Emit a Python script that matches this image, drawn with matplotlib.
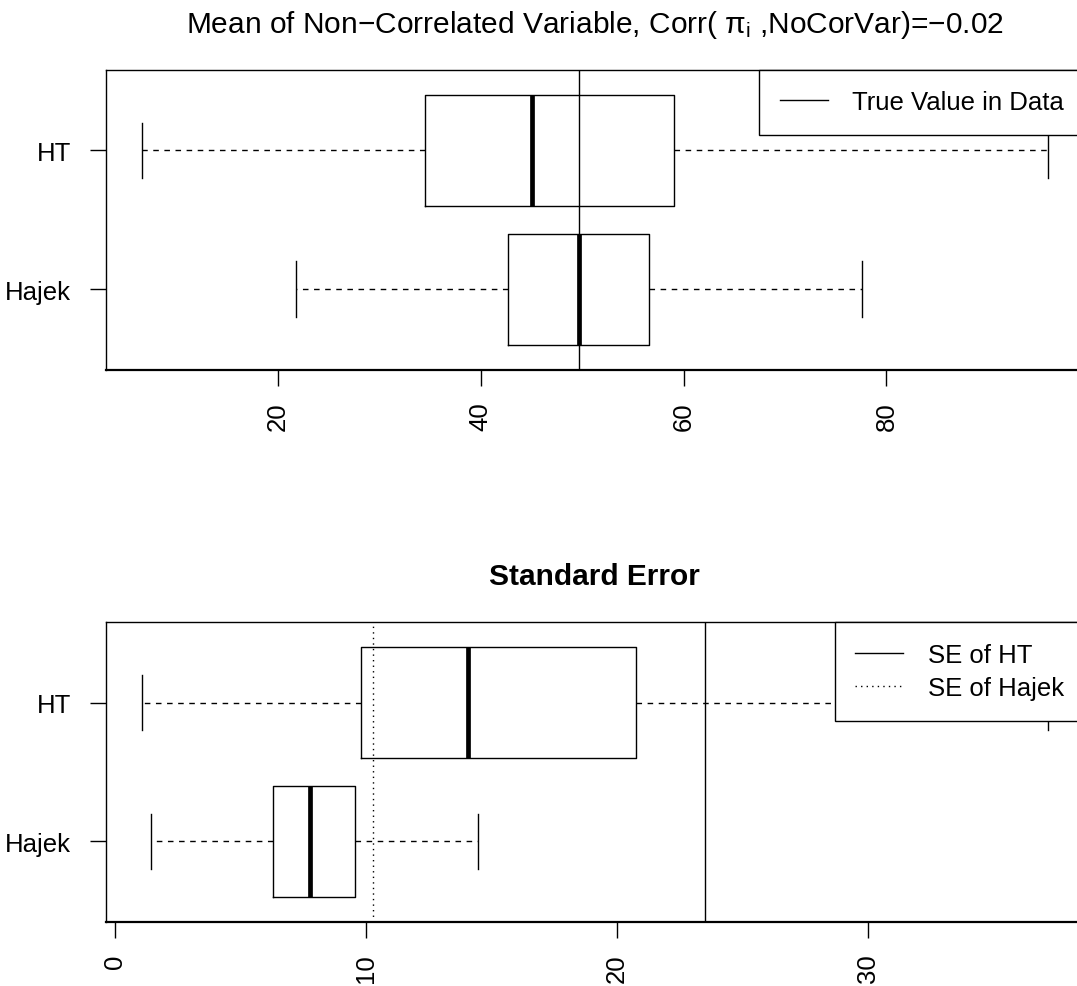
import matplotlib
matplotlib.use("Agg")
import matplotlib.pyplot as plt

plt.rcParams['font.family'] = ['Liberation Sans', 'DejaVu Sans']
plt.rcParams['mathtext.fontset'] = 'custom'
plt.rcParams['mathtext.rm'] = 'Liberation Sans'
plt.rcParams['mathtext.it'] = 'Liberation Sans'
plt.rcParams['mathtext.bf'] = 'Liberation Sans:bold'

# estimators, bottom to top
methods = ['Hajek', 'HT']

# mean of the non-correlated variable (five-number summaries)
mean_whislo = [21.8, 6.6]
mean_q1 = [42.7, 34.5]
mean_med = [49.7, 45.1]
mean_q3 = [56.6, 59.1]
mean_whishi = [77.6, 95.9]
true_value = 49.7

# standard errors
se_whislo = [1.41, 1.05]
se_q1 = [6.29, 9.78]
se_med = [7.76, 14.06]
se_q3 = [9.55, 20.76]
se_whishi = [14.44, 37.17]
se_ht = 23.52
se_hajek = 10.26

mean_ticks = [20, 40, 60, 80]
se_ticks = [0, 10, 20, 30]

FS = 18.5
TITLE_FS = 21.5


def make_stats(lo, q1, med, q3, hi):
    return [dict(whislo=lo[i], q1=q1[i], med=med[i], q3=q3[i], whishi=hi[i],
                 label=methods[i]) for i in range(len(methods))]


def r_boxplot(ax, stats, ticks):
    ax.bxp(stats, positions=[1, 2], widths=0.8, capwidths=0.4,
           orientation='horizontal', showfliers=False,
           boxprops=dict(color='black', linewidth=1.0),
           whiskerprops=dict(color='black', linewidth=1.0, linestyle=(0, (4, 4))),
           capprops=dict(color='black', linewidth=1.0),
           medianprops=dict(color='black', linewidth=3.4, solid_capstyle='butt'))
    ax.margins(x=0.04)
    ax.set_ylim(0.42, 2.58)
    ax.set_yticks([1, 2])
    ax.set_yticklabels(methods)
    ax.set_xticks(ticks)
    ax.set_xticklabels([str(t) for t in ticks], rotation=90)
    ax.tick_params(axis='y', length=11.8, width=1.0, pad=13, labelsize=FS, color='black')
    ax.tick_params(axis='x', length=11.3, width=1.0, pad=11.5, labelsize=FS, color='black')
    for s in ax.spines.values():
        s.set_linewidth(1.0)
    ax.spines['bottom'].set_linewidth(1.6)


def add_legend(ax):
    leg = ax.legend(loc='upper right', borderaxespad=0, fancybox=False,
                    edgecolor='black', framealpha=1, fontsize=FS,
                    handlelength=1.87, handletextpad=0.94, borderpad=0.79,
                    labelspacing=0.38)
    leg.get_frame().set_linewidth(1.0)


fig = plt.figure(figsize=(10.77, 9.87), dpi=100)
ax1 = fig.add_axes([0.09796, 0.62442, 0.90854, 0.30365])
ax2 = fig.add_axes([0.09796, 0.06515, 0.90854, 0.30334])

# top panel: estimated means
r_boxplot(ax1, make_stats(mean_whislo, mean_q1, mean_med, mean_q3, mean_whishi), mean_ticks)
ax1.axvline(true_value, color='black', linewidth=1.0, label='True Value in Data')
add_legend(ax1)
ax1.set_title(r'Mean of Non−Correlated Variable, Corr( $\pi_{\mathrm{i}}$ ,NoCorVar)=−0.02',
              fontsize=TITLE_FS, pad=27.5)

# bottom panel: standard errors
r_boxplot(ax2, make_stats(se_whislo, se_q1, se_med, se_q3, se_whishi), se_ticks)
ax2.axvline(se_ht, color='black', linewidth=1.0, label='SE of HT')
ax2.axvline(se_hajek, color='black', linewidth=1.0, linestyle=(0, (1, 3)), label='SE of Hajek')
add_legend(ax2)
ax2.set_title('Standard Error', fontsize=TITLE_FS, fontweight='bold', pad=27.5)

fig.savefig('out.png', dpi=100)
